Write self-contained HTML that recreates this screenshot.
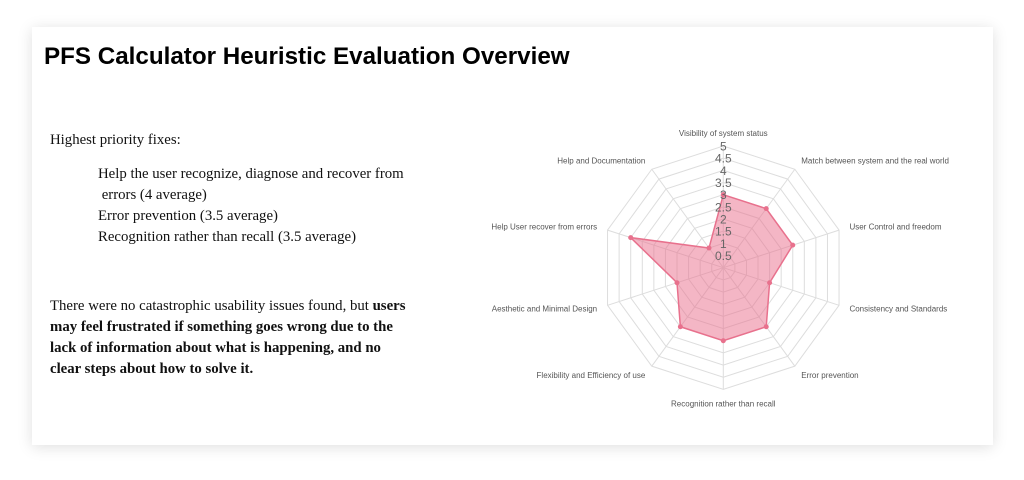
<!DOCTYPE html>
<html><head><meta charset="utf-8"><style>
body{margin:0;width:1024px;height:480px;background:#fff;position:relative;overflow:hidden}
.card{position:absolute;left:32px;top:27px;width:961px;height:418px;background:#fff;box-shadow:0 2px 14px rgba(0,0,0,0.13)}
h1{position:absolute;left:44px;top:43px;margin:0;font:bold 24.2px "Liberation Sans",sans-serif;color:#000;white-space:nowrap}
.t{position:absolute;font:14.8px/21px "Liberation Serif",serif;color:#111;white-space:nowrap}
svg{position:absolute;left:0;top:0}
</style></head><body>
<div class="card"></div>
<h1>PFS Calculator Heuristic Evaluation Overview</h1>
<div class="t" style="left:50px;top:130px">Highest priority fixes:</div>
<div class="t" style="left:98px;top:164px">Help the user recognize, diagnose and recover from<br>&nbsp;errors (4 average)<br>Error prevention (3.5 average)<br>Recognition rather than recall (3.5 average)</div>
<div class="t" style="left:50px;top:296px">There were no catastrophic usability issues found, but <b>users</b><br><b>may feel frustrated if something goes wrong due to the</b><br><b>lack of information about what is happening, and no</b><br><b>clear steps about how to solve it.</b></div>
<svg id="chart" width="1024" height="480"></svg>
<script>
const categories=["Visibility of system status","Match between system and the real world","User Control and freedom","Consistency and Standards","Error prevention","Recognition rather than recall","Flexibility and Efficiency of use","Aesthetic and Minimal Design","Help User recover from errors","Help and Documentation"];
const values=[3,3,3,2,3,3,3,2,4,1];
const ticks=[0.5,1,1.5,2,2.5,3,3.5,4,4.5,5];
const NS="http://www.w3.org/2000/svg";
const svg=document.getElementById('chart');
const cx=723.3,cy=267.7,R=121.7,maxV=5;
const n=categories.length;
function pt(i,v){const a=-Math.PI/2+i*2*Math.PI/n;const r=v/maxV*R;return [cx+r*Math.cos(a),cy+r*Math.sin(a)];}
function mk(tag,at){const e=document.createElementNS(NS,tag);for(const k in at)e.setAttribute(k,at[k]);svg.appendChild(e);return e;}
ticks.forEach(t=>{
  const p=categories.map((c,i)=>pt(i,t).join(',')).join(' ');
  const g=mk('polygon',{points:p,fill:'none',stroke:'#ddd','stroke-width':1});
  
  
});
categories.forEach((c,i)=>{
  const [x,y]=pt(i,maxV);
  const l=mk('line',{x1:cx,y1:cy,x2:x,y2:y,stroke:'#ddd','stroke-width':1});
  
  
});
const poly=values.map((v,i)=>pt(i,v).join(',')).join(' ');
const area=mk('polygon',{points:poly,fill:'rgba(234,110,140,0.5)',stroke:'#e8718d','stroke-width':1.5});


values.forEach((v,i)=>{
  const [x,y]=pt(i,v);
  const d=mk('circle',{cx:x,cy:y,r:2.5,fill:'#e8718d'});
  
  
});
ticks.forEach(t=>{
  const tx=mk('text',{x:cx,y:cy-t/maxV*R+4.5,'text-anchor':'middle','font-family':'Liberation Sans, sans-serif','font-size':12,fill:'#666'});
  tx.textContent=t;
  
  
});
categories.forEach((c,i)=>{
  const [x,y]=pt(i,maxV+0.45);
  const a=i*2*Math.PI/n;const s=Math.sin(a);
  const anchor=Math.abs(s)<0.01?'middle':(s>0?'start':'end');
  let yy=y+3; if(i===0) yy=y+1; if(i===5) yy=y+6;
  const tx=mk('text',{x:x,y:yy,'text-anchor':anchor,'font-family':'Liberation Sans, sans-serif','font-size':8,fill:'#555'});
  tx.textContent=c;
  
  
});
</script>
<div style="position:absolute;left:950px;top:140px;width:43px;height:40px;background:#fff"></div>
</body></html>
